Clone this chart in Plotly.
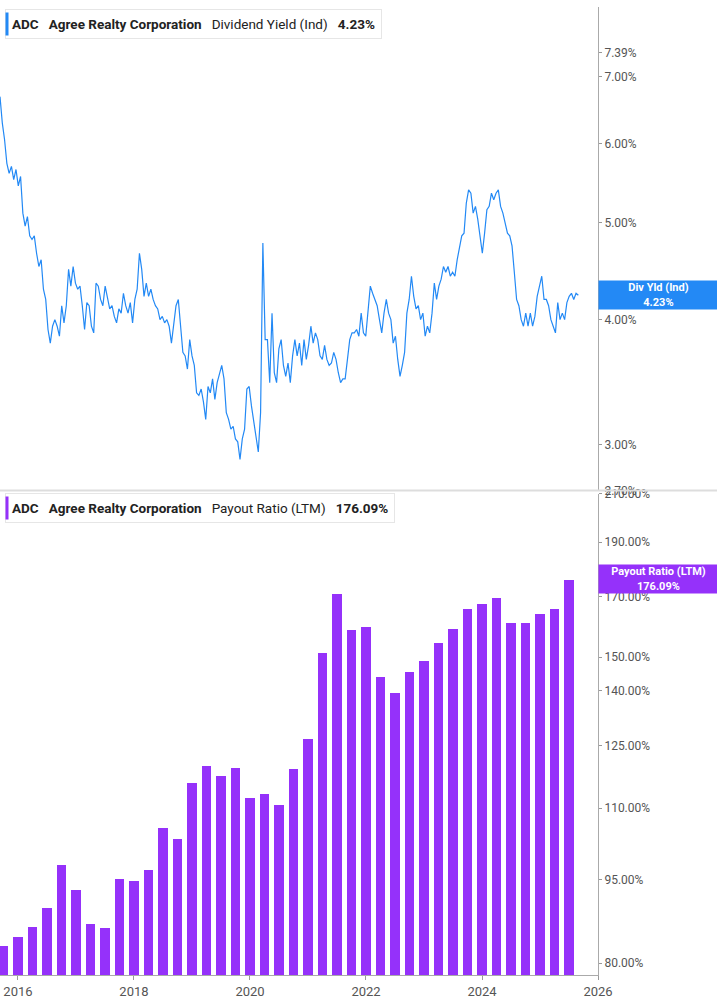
import plotly.graph_objects as go
from plotly.subplots import make_subplots

# Dividend yield (%) sampled roughly every ~14 days starting 2015.69
yield_start = 2015.69
yield_step = 0.03941
div_yield = [6.68,6.29,6.05,5.73,5.60,5.69,5.52,5.65,5.44,5.56,5.11,4.96,5.07,4.85,4.81,4.85,4.66,4.52,4.59,4.29,
4.19,3.91,3.79,3.94,4.00,3.94,3.85,4.13,3.97,4.13,4.49,4.32,4.52,4.35,4.29,4.32,4.13,3.91,4.16,4.13,
3.94,3.88,4.35,4.32,4.19,4.13,4.32,4.19,4.10,4.13,4.03,3.97,4.10,4.06,4.25,4.13,4.06,4.16,3.97,4.19,
4.29,4.66,4.49,4.22,4.35,4.22,4.29,4.19,4.13,4.10,4.00,4.03,3.97,4.00,3.94,3.79,3.97,4.13,4.19,3.94,
3.71,3.68,3.57,3.82,3.68,3.60,3.38,3.36,3.41,3.31,3.18,3.43,3.38,3.49,3.33,3.46,3.54,3.60,3.49,3.23,
3.18,3.11,3.13,3.04,3.02,2.90,3.04,3.11,3.41,3.43,3.28,3.16,3.04,2.95,3.23,4.77,3.82,3.82,3.46,4.06,
3.54,3.46,3.74,3.82,3.60,3.51,3.62,3.46,3.68,3.82,3.68,3.79,3.60,3.82,3.65,3.77,3.94,3.79,3.88,3.82,
3.68,3.65,3.77,3.65,3.60,3.62,3.71,3.65,3.54,3.46,3.49,3.49,3.65,3.82,3.88,3.88,3.91,3.85,4.06,3.88,
3.85,4.10,4.32,4.25,4.19,4.13,4.00,3.88,4.06,4.19,4.06,4.00,3.79,3.85,3.65,3.51,3.60,3.71,4.06,4.19,
4.42,4.22,4.10,4.13,4.00,4.06,3.85,3.94,3.88,4.06,4.35,4.19,4.32,4.39,4.52,4.46,4.52,4.42,4.46,4.42,
4.59,4.74,4.85,4.88,5.23,5.39,5.35,5.11,5.19,5.04,4.81,4.66,4.88,5.15,5.19,5.35,5.27,5.35,5.39,5.19,
5.11,5.00,4.88,4.85,4.74,4.46,4.19,4.13,4.00,3.94,4.06,3.94,4.06,3.94,4.03,4.22,4.32,4.42,4.19,4.19,
4.13,4.00,3.94,3.88,4.16,4.00,4.06,4.00,4.16,4.22,4.25,4.19,4.25,4.23]
yield_dates = [yield_start + i * yield_step for i in range(len(div_yield))]

# Quarterly payout ratio (LTM, %)
payout_start = 2015.75
payout = [83.0,84.4,86.3,89.7,97.9,93.0,86.8,86.1,95.2,94.8,96.9,105.6,103.4,116.0,120.1,117.7,119.6,112.5,113.4,110.9,
119.3,126.9,151.6,170.9,158.8,159.7,144.2,139.6,145.8,149.1,154.5,159.2,165.8,167.5,169.5,161.1,161.1,164.2,165.8,176.09]
payout_dates = [payout_start + 0.25 * i for i in range(len(payout))]

x_ticks = [2016, 2018, 2020, 2022, 2024, 2026]
top_ticks = [2.70, 3.00, 4.00, 5.00, 6.00, 7.00, 7.39]
bot_ticks = [80, 95, 110, 125, 140, 150, 170, 190, 210]

BLUE = "#2389f5"
PURPLE = "#9531fa"
GRAY = "#555555"
FONT = "Roboto"

fig = make_subplots(rows=2, cols=1, shared_xaxes=True, vertical_spacing=0.003)
fig.add_trace(go.Scatter(x=yield_dates, y=div_yield, mode="lines",
                         line=dict(color=BLUE, width=1.2)), row=1, col=1)
fig.add_trace(go.Bar(x=payout_dates, y=payout, width=0.17, marker=dict(color=PURPLE, line=dict(width=0))),
              row=2, col=1)

xr = [2015.69, 2026]
fig.update_xaxes(range=xr, showgrid=False, zeroline=False, tickvals=x_ticks,
                 ticktext=[str(t) for t in x_ticks], tickfont=dict(family=FONT, size=13, color=GRAY),
                 ticks="outside", ticklen=4, tickcolor="#999")
fig.update_xaxes(showticklabels=False, ticks="", row=1, col=1)
fig.update_xaxes(showline=True, linecolor="#aaa", linewidth=1, row=2, col=1)

common_y = dict(type="log", side="right", showgrid=False, zeroline=False, showline=True,
                linecolor="#aaa", linewidth=1, ticks="outside", ticklen=3, tickcolor="#999",
                tickfont=dict(family=FONT, size=12, color=GRAY))
fig.update_yaxes(**common_y, range=[0.43136, 0.91434], tickvals=top_ticks,
                 ticktext=[f"{t:.2f}%" for t in top_ticks], row=1, col=1)
fig.update_yaxes(**common_y, range=[1.8924, 2.32222], tickvals=bot_ticks,
                 ticktext=[f"{t:.2f}%" for t in bot_ticks], row=2, col=1)

fig.update_layout(width=717, height=1005, margin=dict(l=0, r=119, t=0, b=30),
                  plot_bgcolor="white", paper_bgcolor="white", showlegend=False, bargap=0)
fig.layout.yaxis.domain = [0.5005, 1]
fig.layout.yaxis2.domain = [0, 0.4974]

fig.add_shape(type="line", xref="paper", yref="paper", x0=0, x1=1.2, y0=0.5005, y1=0.5005,
              line=dict(color="#dddddd", width=2))

def header(ypix, color, label, value):
    y = 1 - ypix / 975
    fig.add_annotation(xref="paper", yref="paper", x=0.008, y=y, xanchor="left", yanchor="middle",
                       text=f"<b>ADC</b>   <b>Agree Realty Corporation</b>   {label}   <b>{value}</b>",
                       showarrow=False, font=dict(family=FONT, size=13.5, color="#222"),
                       bgcolor="white", bordercolor="#e6e6e6", borderwidth=1, borderpad=6)
    fig.add_annotation(xref="paper", yref="paper", x=0.009, y=y, xanchor="left", yanchor="middle",
                       text="", showarrow=False, width=2, height=22, bgcolor=color, borderpad=0)

header(17, BLUE, "Dividend Yield (Ind)", "4.23%")
header(505, PURPLE, "Payout Ratio (LTM)", "176.09%")

def tag(yref, yval, color, text):
    fig.add_annotation(xref="paper", yref=yref, x=1.0, y=yval, xanchor="left", yanchor="middle",
                       text=text, showarrow=False, width=117, height=26, align="center",
                       bgcolor=color, borderpad=1, font=dict(family=FONT, size=11, color="white"))

tag("y", 0.6263, BLUE, "<b>Div Yld (Ind)</b><br><b>4.23%</b>")
tag("y2", 2.2457, PURPLE, "<b>Payout Ratio (LTM)</b><br><b>176.09%</b>")

fig.write_html("out.html", config={"displayModeBar": False},
               post_script="document.body.style.margin='0px';")
